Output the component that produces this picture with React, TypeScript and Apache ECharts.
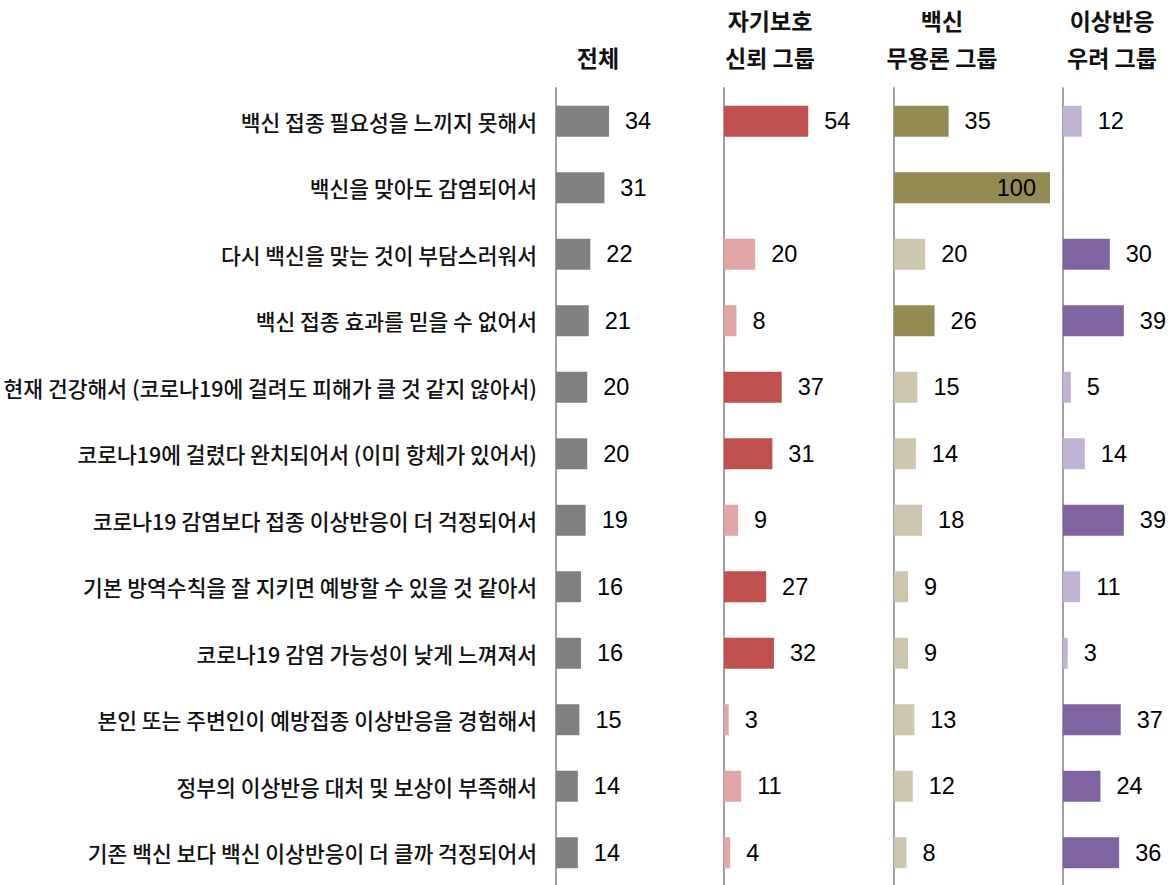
import React, { useEffect, useRef } from "react";
import * as echarts from "echarts";

const categories = [
  "백신 접종 필요성을 느끼지 못해서",
  "백신을 맞아도 감염되어서",
  "다시 백신을 맞는 것이 부담스러워서",
  "백신 접종 효과를 믿을 수 없어서",
  "현재 건강해서 (코로나19에 걸려도 피해가 클 것 같지 않아서)",
  "코로나19에 걸렸다 완치되어서 (이미 항체가 있어서)",
  "코로나19 감염보다 접종 이상반응이 더 걱정되어서",
  "기본 방역수칙을 잘 지키면 예방할 수 있을 것 같아서",
  "코로나19 감염 가능성이 낮게 느껴져서",
  "본인 또는 주변인이 예방접종 이상반응을 경험해서",
  "정부의 이상반응 대처 및 보상이 부족해서",
  "기존 백신 보다 백신 이상반응이 더 클까 걱정되어서",
];

const groupTitles = ["전체", "자기보호\n신뢰 그룹", "백신\n무용론 그룹", "이상반응\n우려 그룹"];

const totalValues = [34, 31, 22, 21, 20, 20, 19, 16, 16, 15, 14, 14];
const selfTrustValues = [54, null, 20, 8, 37, 31, 9, 27, 32, 3, 11, 4];
const uselessValues = [35, 100, 20, 26, 15, 14, 18, 9, 9, 13, 12, 8];
const concernValues = [12, null, 30, 39, 5, 14, 39, 11, 3, 37, 24, 36];

const totalHighlight = [1, 1, 1, 1, 1, 1, 1, 1, 1, 1, 1, 1];
const selfTrustHighlight = [1, 0, 0, 0, 1, 1, 0, 1, 1, 0, 0, 0];
const uselessHighlight = [1, 1, 0, 1, 0, 0, 0, 0, 0, 0, 0, 0];
const concernHighlight = [0, 0, 1, 1, 0, 0, 1, 0, 0, 1, 1, 1];

const groups = [
  { values: totalValues, highlight: totalHighlight, dark: "#808080", light: "#808080" },
  { values: selfTrustValues, highlight: selfTrustHighlight, dark: "#C0504D", light: "#E1A6A6" },
  { values: uselessValues, highlight: uselessHighlight, dark: "#948A54", light: "#CBC6AD" },
  { values: concernValues, highlight: concernHighlight, dark: "#8064A2", light: "#C1B3D4" },
];

const gridLefts = [556, 724, 894, 1063];
const gridWidth = 156;
const titleCenters = [598, 770, 942, 1112];

export default function App() {
  const ref = useRef<HTMLDivElement>(null);
  useEffect(() => {
    if (!ref.current) return;
    const chart = echarts.init(ref.current, null, { renderer: "svg" });
    const font = "'Noto Sans CJK KR', 'Noto Sans', sans-serif";
    const numFont = "'Liberation Sans', Arial, sans-serif";

    const grids = gridLefts.map((l) => ({
      left: l,
      top: 88,
      width: gridWidth,
      height: 798,
      outerBoundsMode: "none",
      containLabel: false,
    }));
    const xAxes = gridLefts.map((_, i) => ({
      type: "value",
      gridIndex: i,
      min: 0,
      max: 100,
      show: false,
    }));
    const yAxes = gridLefts.map((_, i) => ({
      type: "category",
      gridIndex: i,
      data: categories,
      inverse: true,
      axisLine: { show: true, lineStyle: { color: "#A0A0A0", width: 2 } },
      axisTick: { show: false },
      axisLabel: {
        show: i === 0,
        margin: 19,
        fontSize: 21.5,
        fontWeight: 500,
        color: "#111",
        fontFamily: font,
      },
    }));
    const series = groups.map((g, i) => ({
      type: "bar",
      xAxisIndex: i,
      yAxisIndex: i,
      barWidth: 31,
      data: g.values.map((v, j) => {
        if (v === null) return null;
        const item: any = {
          value: v,
          itemStyle: { color: g.highlight[j] ? g.dark : g.light },
        };
        if (v >= 100) {
          item.label = { position: "insideRight", distance: 14 };
        }
        return item;
      }),
      label: {
        show: true,
        position: "right",
        distance: 16,
        fontSize: 23.5,
        color: "#000",
        fontFamily: numFont,
      },
    }));
    const titles = groupTitles.map((t, i) => {
      const twoLines = t.includes("\n");
      return {
        text: t,
        left: titleCenters[i],
        top: twoLines ? 1.5 : 38.5,
        textAlign: "center",
        padding: 0,
        textStyle: {
          fontSize: 23,
          fontWeight: "bold",
          color: "#111",
          fontFamily: font,
          lineHeight: 37,
        },
      };
    });

    chart.setOption({
      animation: false,
      backgroundColor: "#fff",
      title: titles,
      grid: grids,
      xAxis: xAxes,
      yAxis: yAxes,
      series,
    });
    return () => chart.dispose();
  }, []);
  return (
    <div
      ref={ref}
      style={{ position: "fixed", left: 0, top: 0, width: 1176, height: 885 }}
    />
  );
}
